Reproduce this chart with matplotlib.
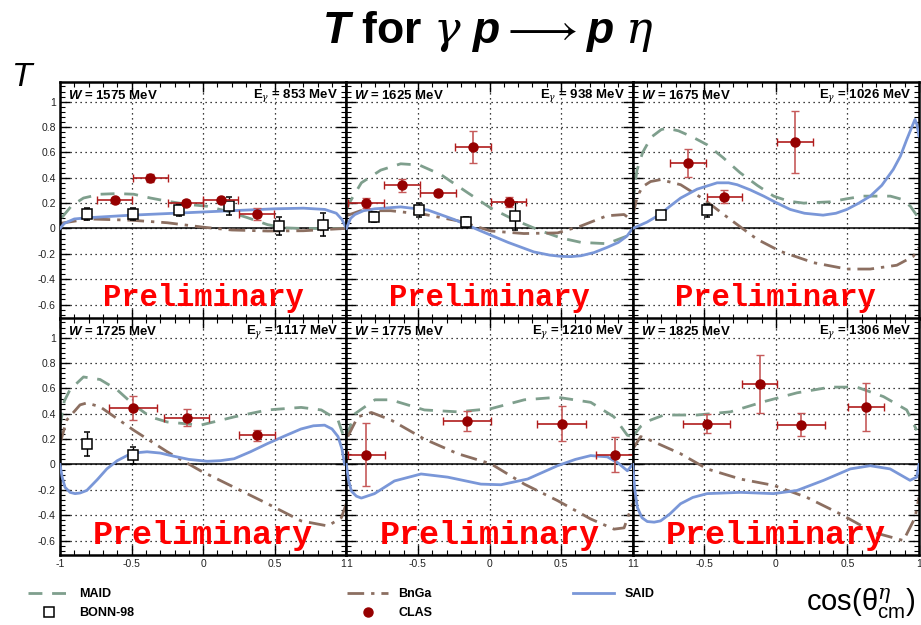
import numpy as np
import matplotlib
matplotlib.use("Agg")
import matplotlib.pyplot as plt
from matplotlib.lines import Line2D
from matplotlib.ticker import MultipleLocator, FixedLocator, FixedFormatter

plt.rcParams["font.family"] = ["Liberation Sans", "DejaVu Sans"]
plt.rcParams["mathtext.fontset"] = "custom"
plt.rcParams["mathtext.rm"] = "Liberation Sans"
plt.rcParams["mathtext.sf"] = "Liberation Sans"
plt.rcParams["mathtext.it"] = "DejaVu Serif:italic"
plt.rcParams["mathtext.bf"] = "Liberation Sans:bold"
plt.rcParams["mathtext.bfit"] = "Liberation Sans:bold:italic"

# ---- panel labels ----
W_vals = [1575, 1625, 1675, 1725, 1775, 1825]
Eg_vals = [853, 938, 1026, 1117, 1210, 1306]

# ---- model curves (cos, T), one list per panel ----
maid_x = [
    [-0.988, -0.918, -0.836, -0.719, -0.602, -0.485, -0.368, -0.251, -0.111, 0.029, 0.170, 0.310, 0.450, 0.567, 0.684, 0.988],
    [-1.0, -0.98, -0.895, -0.76, -0.62, -0.49, -0.34, -0.15, 0.01, 0.17, 0.36, 0.5, 0.64, 0.82, 0.96, 0.99],
    [-1.0, -0.97, -0.93, -0.87, -0.8, -0.76, -0.68, -0.58, -0.48, -0.37, -0.25, -0.13, -0.015, 0.09, 0.194, 0.38, 0.5, 0.61, 0.80, 0.88, 0.94, 0.98, 1.0],
    [-1.0, -0.97, -0.93, -0.836, -0.72, -0.602, -0.485, -0.368, -0.251, -0.018, 0.216, 0.45, 0.684, 0.825, 0.942, 1.0],
    [-1.0, -0.94, -0.80, -0.69, -0.455, -0.222, 0.01, 0.243, 0.475, 0.707, 0.87, 0.963, 1.0],
    [-1.0, -0.944, -0.875, -0.782, -0.55, -0.317, -0.085, 0.148, 0.38, 0.566, 0.752, 0.914, 0.984],
]
maid_y = [
    [0.085, 0.18, 0.24, 0.27, 0.275, 0.27, 0.24, 0.215, 0.19, 0.175, 0.135, 0.085, 0.03, 0.005, 0.0, 0.0],
    [0.15, 0.2, 0.36, 0.46, 0.51, 0.5, 0.425, 0.28, 0.16, 0.07, -0.02, -0.075, -0.11, -0.12, -0.06, -0.03],
    [0.2, 0.46, 0.6, 0.72, 0.78, 0.79, 0.77, 0.72, 0.66, 0.56, 0.44, 0.34, 0.255, 0.215, 0.2, 0.21, 0.235, 0.255, 0.255, 0.23, 0.175, 0.11, 0.07],
    [0.3, 0.5, 0.59, 0.69, 0.67, 0.59, 0.47, 0.375, 0.335, 0.31, 0.375, 0.43, 0.45, 0.43, 0.35, 0.16],
    [0.22, 0.4, 0.51, 0.51, 0.43, 0.415, 0.44, 0.51, 0.53, 0.49, 0.375, 0.23, 0.22],
    [0.22, 0.3, 0.35, 0.39, 0.39, 0.415, 0.495, 0.565, 0.61, 0.61, 0.535, 0.43, 0.27],
]

bnga_x = [
    [-1.0, -0.8, -0.5, -0.25, 0.0, 0.2, 0.45, 0.7, 0.99],
    [-1.0, -0.9, -0.69, -0.45, -0.22, 0.01, 0.24, 0.475, 0.64, 0.82, 0.94, 1.0],
    [-1.0, -0.967, -0.93, -0.875, -0.805, -0.665, -0.503, -0.317, -0.131, 0.031, 0.264, 0.496, 0.659, 0.845, 0.96, 1.0],
    [-1.0, -0.953, -0.86, -0.813, -0.72, -0.485, -0.251, -0.018, 0.216, 0.45, 0.684, 0.871, 0.965, 1.0],
    [-0.99, -0.92, -0.825, -0.687, -0.455, -0.222, 0.01, 0.243, 0.475, 0.707, 0.87, 0.94, 1.0],
    [-1.0, -0.944, -0.875, -0.666, -0.48, -0.247, -0.015, 0.217, 0.45, 0.682, 0.891, 0.972, 1.0],
]
bnga_y = [
    [0.04, 0.075, 0.065, 0.045, 0.01, -0.012, -0.02, -0.018, 0.0],
    [0.1, 0.14, 0.14, 0.11, 0.06, -0.02, -0.04, -0.035, 0.02, 0.1, 0.11, 0.06],
    [0.1, 0.255, 0.33, 0.37, 0.385, 0.345, 0.23, 0.07, -0.085, -0.18, -0.27, -0.32, -0.32, -0.29, -0.22, -0.15],
    [0.165, 0.35, 0.47, 0.485, 0.455, 0.27, 0.1, -0.05, -0.18, -0.31, -0.445, -0.485, -0.42, -0.31],
    [0.22, 0.375, 0.41, 0.35, 0.2, 0.085, 0.005, -0.155, -0.285, -0.43, -0.51, -0.5, -0.31],
    [0.12, 0.22, 0.19, 0.085, -0.035, -0.115, -0.165, -0.26, -0.39, -0.535, -0.6, -0.42, -0.26],
]

said_x = [
    [-1.0, -0.97, -0.9, -0.8, -0.5, 0.0, 0.5, 0.7, 0.85, 0.93, 0.97, 1.0],
    [-1.0, -0.97, -0.94, -0.88, -0.80, -0.62, -0.43, -0.245, -0.06, 0.13, 0.31, 0.42, 0.5, 0.57, 0.64, 0.73, 0.82, 0.9, 0.96, 1.0],
    [-1.0, -0.9, -0.81, -0.74, -0.665, -0.55, -0.41, -0.33, -0.27, -0.18, -0.085, 0.0, 0.1, 0.2, 0.33, 0.42, 0.496, 0.58, 0.66, 0.74, 0.82, 0.87, 0.914, 0.95, 0.972, 0.985, 1.0],
    [-1.0, -0.985, -0.965, -0.93, -0.895, -0.86, -0.813, -0.74, -0.673, -0.6, -0.532, -0.46, -0.392, -0.3, -0.205, -0.1, 0.029, 0.12, 0.216, 0.33, 0.45, 0.57, 0.684, 0.77, 0.848, 0.9, 0.942, 0.97, 0.988],
    [-1.0, -0.985, -0.965, -0.93, -0.895, -0.803, -0.664, -0.478, -0.292, -0.06, 0.08, 0.266, 0.475, 0.6, 0.707, 0.823, 0.9, 0.963, 1.0],
    [-1.0, -0.985, -0.967, -0.935, -0.898, -0.85, -0.805, -0.74, -0.666, -0.58, -0.48, -0.247, -0.015, 0.148, 0.334, 0.52, 0.659, 0.798, 0.937, 0.984, 1.0],
]
said_y = [
    [0.0, 0.04, 0.075, 0.085, 0.105, 0.13, 0.155, 0.16, 0.15, 0.12, 0.07, 0.0],
    [0.0, 0.08, 0.11, 0.14, 0.155, 0.17, 0.145, 0.07, -0.02, -0.11, -0.185, -0.21, -0.22, -0.222, -0.215, -0.19, -0.15, -0.11, -0.06, 0.0],
    [0.0, 0.05, 0.11, 0.175, 0.24, 0.31, 0.36, 0.36, 0.345, 0.305, 0.255, 0.205, 0.15, 0.12, 0.105, 0.12, 0.15, 0.2, 0.255, 0.34, 0.465, 0.57, 0.70, 0.8, 0.86, 0.82, 0.73],
    [0.0, -0.1, -0.18, -0.22, -0.23, -0.225, -0.205, -0.12, -0.035, 0.03, 0.07, 0.093, 0.1, 0.09, 0.065, 0.04, 0.025, 0.03, 0.045, 0.1, 0.165, 0.225, 0.28, 0.305, 0.31, 0.28, 0.22, 0.12, 0.0],
    [0.0, -0.12, -0.21, -0.25, -0.265, -0.23, -0.13, -0.075, -0.1, -0.155, -0.16, -0.115, -0.01, 0.04, 0.07, 0.06, 0.01, -0.05, 0.0],
    [0.0, -0.2, -0.34, -0.42, -0.45, -0.455, -0.445, -0.39, -0.31, -0.26, -0.23, -0.22, -0.23, -0.205, -0.125, -0.035, -0.01, -0.035, -0.125, -0.1, 0.0],
]

# ---- CLAS data ----
clas_x = [
    [-0.619, -0.368, -0.123, 0.123, 0.375],
    [-0.861, -0.612, -0.361, -0.113, 0.133],
    [-0.612, -0.359, 0.134],
    [-0.492, -0.116, 0.375],
    [-0.86, -0.157, 0.503, 0.875],
    [-0.484, -0.113, 0.175, 0.63],
]
clas_xerr = [
    [0.123, 0.123, 0.123, 0.123, 0.123],
    [0.125, 0.125, 0.125, 0.125, 0.125],
    [0.125, 0.122, 0.125],
    [0.167, 0.155, 0.125],
    [0.128, 0.166, 0.168, 0.128],
    [0.166, 0.124, 0.168, 0.124],
]
clas_y = [
    [0.223, 0.399, 0.202, 0.223, 0.115],
    [0.202, 0.341, 0.276, 0.643, 0.21],
    [0.516, 0.25, 0.68],
    [0.447, 0.37, 0.23],
    [0.077, 0.34, 0.323, 0.077],
    [0.323, 0.632, 0.315, 0.45],
]
clas_yerr = [
    [0.02, 0.03, 0.02, 0.02, 0.045],
    [0.04, 0.05, 0.02, 0.128, 0.04],
    [0.11, 0.05, 0.243],
    [0.093, 0.07, 0.045],
    [0.25, 0.078, 0.138, 0.139],
    [0.073, 0.23, 0.087, 0.19],
]

# ---- BONN-98 data ----
bonn_x = [
    [-0.813, -0.492, -0.17, 0.177, 0.527, 0.836],
    [-0.807, -0.489, -0.164, 0.18],
    [-0.80, -0.484],
    [-0.813, -0.492],
    [],
    [],
]
bonn_y = [
    [0.115, 0.115, 0.144, 0.176, 0.018, 0.031],
    [0.089, 0.144, 0.05, 0.097],
    [0.105, 0.142],
    [0.159, 0.071],
    [],
    [],
]
bonn_yerr = [
    [0.05, 0.05, 0.045, 0.07, 0.07, 0.09],
    [0.04, 0.055, 0.04, 0.11],
    [0.03, 0.05],
    [0.094, 0.066],
    [],
    [],
]

C_MAID = "#7f9f8d"
C_BNGA = "#8c6f61"
C_SAID = "#7a97d8"
C_CLAS = "#960000"
C_CLAS_X = "#b01c1c"
C_CLAS_Y = "#c65a5a"
LS_MAID = (0, (5, 3.5))
LS_BNGA = (0, (6, 2.5, 1.2, 2.5))

W, H = 921, 625
fig = plt.figure(figsize=(W / 100, H / 100), dpi=100)

x0, x1 = 60, 919
pw = (x1 - x0) / 3
rows_top = [82, 318]
ph = 236.5

tick_lbls = ["-1", "-0.5", "0", "0.5", "1"]

for k in range(6):
    r, c = divmod(k, 3)
    left = (x0 + c * pw) / W
    bottom = 1 - (rows_top[r] + ph) / H
    ax = fig.add_axes([left, bottom, pw / W, ph / H])
    ax.set_xlim(-1, 1)
    ax.set_ylim(-0.71, 1.155)

    ax.grid(True, which="major", color="black", ls=(0, (1, 3)), lw=0.9, zorder=0)
    ax.axhline(0, color="black", lw=1.1, zorder=1)

    ax.plot(maid_x[k], maid_y[k], color=C_MAID, lw=2.0, ls=LS_MAID, zorder=2)
    ax.plot(bnga_x[k], bnga_y[k], color=C_BNGA, lw=2.0, ls=LS_BNGA, zorder=2)
    ax.plot(said_x[k], said_y[k], color=C_SAID, lw=2.0, zorder=3)

    if bonn_x[k]:
        ax.errorbar(bonn_x[k], bonn_y[k], yerr=bonn_yerr[k], fmt="s", ms=6.5,
                    mfc="white", mec="black", mew=1.1, ecolor="black",
                    elinewidth=1.0, capsize=2.5, zorder=4)
    ax.errorbar(clas_x[k], clas_y[k], xerr=clas_xerr[k], fmt="none",
                ecolor=C_CLAS_X, elinewidth=1.2, capsize=3, zorder=5)
    ax.errorbar(clas_x[k], clas_y[k], yerr=clas_yerr[k], fmt="o", ms=6.5,
                color=C_CLAS, ecolor=C_CLAS_Y, elinewidth=1.2, capsize=3, zorder=6)

    ax.xaxis.set_major_locator(FixedLocator([-1, -0.5, 0, 0.5, 1]))
    ax.xaxis.set_minor_locator(MultipleLocator(0.1))
    ax.yaxis.set_major_locator(FixedLocator([-0.6, -0.4, -0.2, 0, 0.2, 0.4, 0.6, 0.8, 1.0]))
    ax.yaxis.set_minor_locator(MultipleLocator(0.04))
    ax.tick_params(which="both", direction="in", top=True, right=True,
                   labelsize=7.5, labelcolor="#222222", pad=3)
    ax.tick_params(which="major", length=7, width=1.0)
    ax.tick_params(which="minor", length=3.5, width=0.8)
    for s in ax.spines.values():
        s.set_linewidth(1.8)

    if c == 0:
        ax.yaxis.set_major_formatter(FixedFormatter(["-0.6", "-0.4", "-0.2", "0", "0.2", "0.4", "0.6", "0.8", "1"]))
    else:
        ax.tick_params(labelleft=False)

    if r == 1:
        lbls = list(tick_lbls)
        if c > 0:
            lbls[0] = "1"
        ax.xaxis.set_major_formatter(FixedFormatter(lbls))
        tl = ax.get_xticklabels()
        if c > 0:
            tl[0].set_horizontalalignment("left")
        if c < 2:
            tl[-1].set_horizontalalignment("right")
    else:
        ax.tick_params(labelbottom=False)

    ax.text(0.028, 0.945, r"$\mathbfit{W}$ = %d MeV" % W_vals[k], transform=ax.transAxes,
            fontsize=9.5, fontweight="bold", ha="left", va="center", zorder=7)
    ax.text(0.972, 0.945, r"E$_{\gamma}$ = %d MeV" % Eg_vals[k], transform=ax.transAxes,
            fontsize=9.5, fontweight="bold", ha="right", va="center", zorder=7)

    ax.text(0.0, -0.61 if r == 0 else -0.625, "Preliminary", color="red",
            family="Liberation Mono", fontweight="bold",
            fontsize=22 if r == 0 else 24, ha="center", va="baseline", zorder=8)

fig.text(488 / W, 1 - 32 / H,
         r"$\mathbfit{T}$ for $\gamma$ $\mathbfit{p}\longrightarrow\mathbfit{p}$ $\eta$",
         fontsize=32, fontweight="bold", ha="center", va="center")
fig.text(22 / W, 1 - 78 / H, "T", fontsize=24, fontstyle="italic", ha="center", va="center")
fig.text(915 / W, 1 - 604 / H, r"cos($\mathrm{\theta}^{\eta}_{\mathrm{cm}}$)",
         fontsize=21, ha="right", va="center")

h_maid = Line2D([], [], color=C_MAID, lw=2.0, ls=LS_MAID)
h_bonn = Line2D([], [], ls="none", marker="s", ms=6.5, mfc="white", mec="black", mew=1.1)
h_bnga = Line2D([], [], color=C_BNGA, lw=2.0, ls=LS_BNGA)
h_clas = Line2D([], [], ls="none", marker="o", ms=6.5, color=C_CLAS)
h_said = Line2D([], [], color=C_SAID, lw=2.0)

leg_kw = dict(loc="upper left", frameon=False, handlelength=3.3, handletextpad=0.8,
              labelspacing=0.55, borderpad=0, borderaxespad=0,
              prop=dict(family="Liberation Sans", weight="bold", size=9))
fig.legend([h_maid, h_bonn], ["MAID", "BONN-98"], bbox_to_anchor=(28 / W, 1 - 588 / H), **leg_kw)
fig.legend([h_bnga, h_clas], ["BnGa", "CLAS"], bbox_to_anchor=(347 / W, 1 - 588 / H), **leg_kw)
fig.legend([h_said], ["SAID"], bbox_to_anchor=(573 / W, 1 - 588 / H), **leg_kw)

fig.savefig("out.png", dpi=100)
